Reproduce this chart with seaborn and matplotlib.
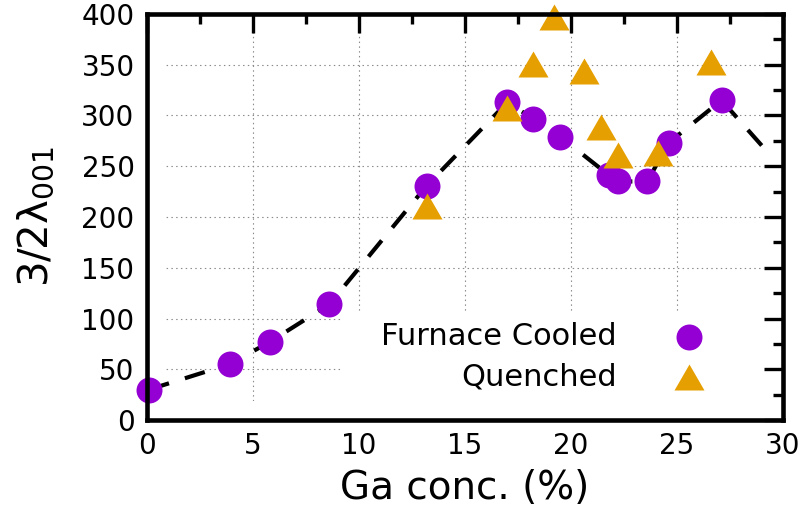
import matplotlib
matplotlib.use("Agg")
import matplotlib.pyplot as plt
from matplotlib.path import Path
from matplotlib.patches import Rectangle
from matplotlib.ticker import MultipleLocator
import seaborn as sns
import pandas as pd

# Furnace-cooled samples
fc_ga = [0.1, 3.9, 5.8, 8.6, 13.2, 17.0, 18.2, 19.5, 21.8, 22.2, 23.6, 24.6, 27.1]
fc_val = [30, 55, 77, 114, 231, 313, 297, 279, 241, 235, 235, 273, 315]

# Quenched samples
q_ga = [13.2, 17.0, 18.2, 19.2, 20.6, 21.4, 22.2, 24.1, 26.6]
q_val = [211, 307, 351, 397, 344, 289, 261, 263, 353]

# Guide-to-the-eye curve
guide_ga = fc_ga + [29.1]
guide_val = fc_val + [268]

x_ticks = [0, 5, 10, 15, 20, 25, 30]
y_ticks = [0, 50, 100, 150, 200, 250, 300, 350, 400]

purple = "#9400D3"
orange = "#E69F00"

sns.set_style("white")
plt.rcParams["font.family"] = ["DejaVu Sans"]
plt.rcParams["mathtext.fontset"] = "dejavusans"
plt.rcParams["mathtext.default"] = "regular"
for key in ("text.color", "axes.labelcolor", "xtick.color", "ytick.color"):
    plt.rcParams[key] = "black"

fc = pd.DataFrame({"ga": fc_ga, "val": fc_val})
qd = pd.DataFrame({"ga": q_ga, "val": q_val})
guide = pd.DataFrame({"ga": guide_ga, "val": guide_val})

fig = plt.figure(figsize=(8.09, 5.11), dpi=100)
rect = [147 / 809, 1 - 420 / 511, 636 / 809, 406 / 511]

# background axes: dotted grid only
ax_bg = fig.add_axes(rect, zorder=0)
ax_bg.set_xlim(0, 30)
ax_bg.set_ylim(0, 400)
ax_bg.set_xticks(x_ticks)
ax_bg.set_yticks(y_ticks)
ax_bg.grid(True, color="#8a8a8a", linestyle=(0, (1.3, 3.0)), linewidth=0.8)
ax_bg.tick_params(length=0, labelbottom=False, labelleft=False)
for s in ax_bg.spines.values():
    s.set_visible(False)

# main axes
ax = fig.add_axes(rect, zorder=1)
ax.patch.set_alpha(0)

# keep the grid clear of the tick marks and of the key area
mask_kw = dict(transform=ax.transAxes, facecolor="white", edgecolor="none", zorder=0.1)
fx, fy = 19 / 636, 19 / 406
ax.add_patch(Rectangle((0, 0), fx, 1, **mask_kw))
ax.add_patch(Rectangle((1 - fx, 0), fx, 1, **mask_kw))
ax.add_patch(Rectangle((0, 0), 1, fy, **mask_kw))
ax.add_patch(Rectangle((0, 1 - fy), 1, fy, **mask_kw))
ax.add_patch(Rectangle((195 / 636, 0), 1 - 195 / 636, 107 / 406, **mask_kw))

sns.lineplot(data=guide, x="ga", y="val", ax=ax, color="black", sort=False,
             linewidth=3.0, linestyle=(0, (5, 4)), zorder=2)

tri = Path([(-1, -0.866), (1, -0.866), (0, 0.866), (-1, -0.866)],
           [Path.MOVETO, Path.LINETO, Path.LINETO, Path.CLOSEPOLY])

sns.scatterplot(data=fc, x="ga", y="val", ax=ax, marker="o", s=350, color=purple,
                linewidth=0, label="Furnace Cooled", zorder=3, clip_on=False)
sns.scatterplot(data=qd, x="ga", y="val", ax=ax, marker=tri, s=467, color=orange,
                linewidth=0, label="Quenched", zorder=4, clip_on=False)

ax.set_xlim(0, 30)
ax.set_ylim(0, 400)
ax.set_xticks(x_ticks)
ax.set_yticks(y_ticks)
ax.xaxis.set_minor_locator(MultipleLocator(2.5))
ax.yaxis.set_minor_locator(MultipleLocator(25))
ax.tick_params(which="both", direction="in", top=True, right=True, width=2.4,
               color="black", labelsize=20)
ax.tick_params(which="major", length=13.5, pad=9)
ax.tick_params(which="minor", length=7)
for s in ax.spines.values():
    s.set_linewidth(3.3)
    s.set_color("black")
    s.set_zorder(5)

ax.set_xlabel("Ga conc. (%)", fontsize=28, labelpad=6)
ax.set_ylabel(r"3/2$\lambda_{001}$", fontsize=29, labelpad=18)

ax.legend(loc="center", bbox_to_anchor=(0.632, 0.156), frameon=False, fontsize=22,
          markerfirst=False, handletextpad=1.45, handlelength=1.8,
          labelspacing=0.36, borderpad=0)

fig.savefig("out.png", dpi=100)
